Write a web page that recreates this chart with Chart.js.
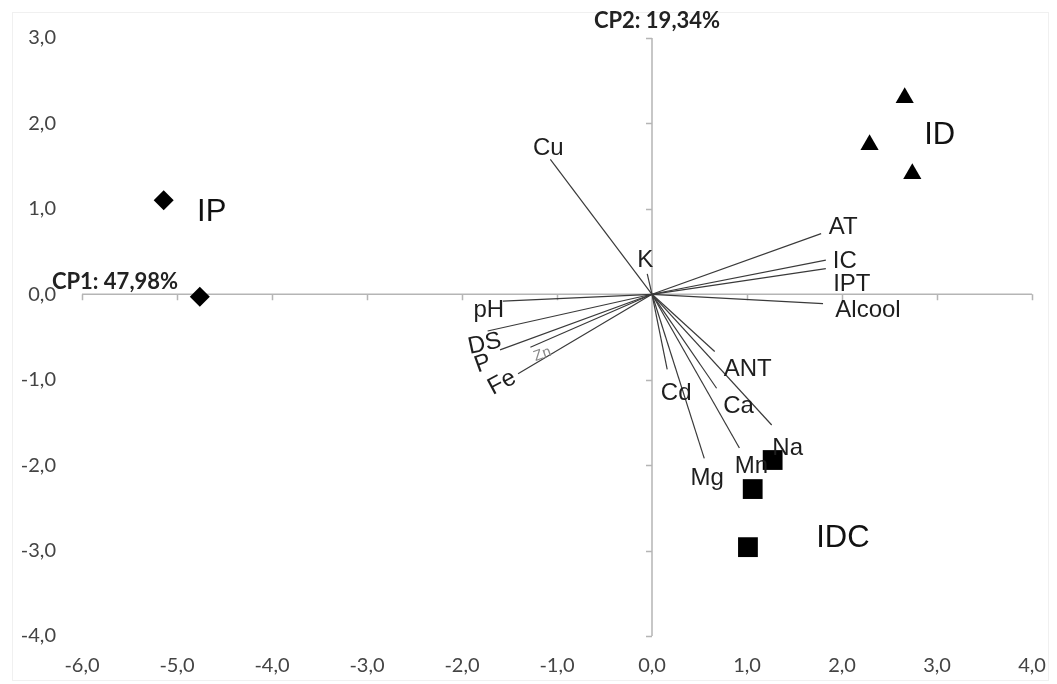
<!DOCTYPE html>
<html lang="pt">
<head>
  <meta charset="UTF-8"/>
  <title>CP1 x CP2</title>
  <script src="https://cdn.jsdelivr.net/npm/chart.js"></script>
  <style>
    * { box-sizing: border-box; margin: 0; padding: 0; }
    body { background: #fff; }
    #wrap { position: relative; width: 1057px; height: 684px; }
  </style>
</head>
<body>
  <div id="wrap"><canvas id="pca"></canvas></div>

  <script>
    // axis ticks
    const xTickValues = [-6, -5, -4, -3, -2, -1, 0, 1, 2, 3, 4];
    const yTickValues = [-4, -3, -2, -1, 0, 1, 2, 3];
    const xTitle = 'CP1: 47,98%';
    const yTitle = 'CP2: 19,34%';

    // sample scores
    const groupNames = ['IP', 'ID', 'IDC'];
    const ipX = [-5.14, -4.76];
    const ipY = [1.10, -0.03];
    const idX = [2.66, 2.29, 2.74];
    const idY = [2.30, 1.75, 1.41];
    const idcX = [1.27, 1.06, 1.01];
    const idcY = [-1.94, -2.28, -2.96];

    // variable loadings (vectors from origin)
    const varNames = ['Cu', 'K', 'AT', 'IC', 'IPT', 'Alcool', 'pH', 'DS', 'P', 'Zn', 'Fe', 'ANT', 'Cd', 'Ca', 'Na', 'Mn', 'Mg'];
    const varX = [-1.07, -0.05, 1.78, 1.83, 1.83, 1.80, -1.57, -1.73, -1.60, -1.28, -1.41, 0.66, 0.16, 0.68, 1.26, 0.92, 0.55];
    const varY = [1.58, 0.24, 0.71, 0.40, 0.30, -0.11, -0.08, -0.43, -0.65, -0.62, -0.93, -0.67, -0.88, -1.10, -1.53, -1.80, -1.92];

    const fmt = v => v.toFixed(1).replace('.', ',');
    const tickFont = { family: 'Lato', size: 20 };

    // label placement relative to vector tip (px), rotation in degrees
    const varLabelStyle = {
      Cu: [-2, -11], K: [-2, -13], AT: [22, -6], IC: [19, 1], IPT: [26, 16], Alcool: [45, 7],
      pH: [-14, 9], DS: [-3, 13, -12], P: [-17, 14, -20], Zn: [12, 7, -20], Fe: [-16, 9, -28],
      ANT: [33, 18], Cd: [9, 24], Ca: [22, 18], Na: [16, 23], Mn: [12, 18], Mg: [3, 20]
    };
    // group label placement relative to one point of the group
    const groupLabelStyle = { IP: [0, 48, 12], ID: [0, 35, 38], IDC: [2, 95, -9] };

    const vectorSets = varNames.map((n, i) => ({
      label: n,
      data: [{ x: 0, y: 0 }, { x: varX[i], y: varY[i] }],
      showLine: true,
      borderColor: '#3a3a3a',
      borderWidth: 1.2,
      pointRadius: 0,
      order: 2
    }));

    const toPts = (xs, ys) => xs.map((x, i) => ({ x: x, y: ys[i] }));
    const groupSets = [
      { label: 'IP', data: toPts(ipX, ipY), pointStyle: 'rectRot', pointRadius: 10 },
      { label: 'ID', data: toPts(idX, idY), pointStyle: 'triangle', pointRadius: 10.5 },
      { label: 'IDC', data: toPts(idcX, idcY), pointStyle: 'rect', pointRadius: 14 }
    ].map(d => Object.assign(d, { backgroundColor: '#000', borderColor: '#000', borderWidth: 0, order: 1 }));

    // axes through the origin + annotations
    const biplotPlugin = {
      id: 'biplot',
      beforeDatasetsDraw(chart) {
        const { ctx, chartArea: a, scales: { x, y } } = chart;
        const x0 = x.getPixelForValue(0), y0 = y.getPixelForValue(0);
        ctx.save();
        // faint outer frame
        ctx.strokeStyle = '#f0f0f0';
        ctx.lineWidth = 1;
        ctx.strokeRect(12.5, 12.5, 1036, 668);
        ctx.strokeStyle = '#b5b5b5';
        ctx.lineWidth = 1.5;
        ctx.beginPath();
        ctx.moveTo(a.left, y0); ctx.lineTo(a.right, y0);
        ctx.moveTo(x0, a.top); ctx.lineTo(x0, a.bottom);
        xTickValues.forEach(v => {
          const px = Math.round(x.getPixelForValue(v)) + 0.5;
          ctx.moveTo(px, y0); ctx.lineTo(px, y0 + 6);
        });
        yTickValues.forEach(v => {
          const py = Math.round(y.getPixelForValue(v)) + 0.5;
          ctx.moveTo(x0, py); ctx.lineTo(x0 - 6, py);
        });
        ctx.stroke();
        ctx.restore();
      },
      afterDatasetsDraw(chart) {
        const { ctx, chartArea: a, scales: { x, y } } = chart;
        const x0 = x.getPixelForValue(0), y0 = y.getPixelForValue(0);
        ctx.save();
        ctx.textAlign = 'center';
        ctx.textBaseline = 'middle';

        // variable labels
        varNames.forEach((n, i) => {
          const s = varLabelStyle[n];
          const px = x.getPixelForValue(varX[i]) + s[0];
          const py = y.getPixelForValue(varY[i]) + s[1];
          ctx.save();
          ctx.translate(px, py);
          if (s[2]) ctx.rotate(s[2] * Math.PI / 180);
          if (n === 'Zn') {
            ctx.font = '15px "Liberation Sans"';
            ctx.fillStyle = '#8a8a8a';
          } else {
            ctx.font = '24px "Liberation Sans"';
            ctx.fillStyle = '#1e1e1e';
          }
          ctx.fillText(n, 0, 0);
          ctx.restore();
        });

        // group labels
        const groupX = [ipX, idX, idcX], groupY = [ipY, idY, idcY];
        ctx.font = '31px "Liberation Sans"';
        ctx.fillStyle = '#111';
        groupNames.forEach((g, gi) => {
          const s = groupLabelStyle[g];
          const px = x.getPixelForValue(groupX[gi][s[0]]) + s[1];
          const py = y.getPixelForValue(groupY[gi][s[0]]) + s[2];
          ctx.fillText(g, px, py);
        });

        // axis titles
        ctx.font = 'bold 22px Lato';
        ctx.fillStyle = '#222';
        ctx.fillText(yTitle, x0 + 5, a.top - 17);
        ctx.fillText(xTitle, a.left + 33, y0 - 12);
        ctx.restore();
      }
    };

    new Chart(document.getElementById('pca'), {
      type: 'scatter',
      data: { datasets: vectorSets.concat(groupSets) },
      options: {
        responsive: true,
        maintainAspectRatio: false,
        animation: false,
        layout: { padding: { top: 36, right: 25, left: 0, bottom: 0 } },
        plugins: { legend: { display: false }, tooltip: { enabled: false } },
        scales: {
          x: {
            type: 'linear',
            min: -6, max: 4,
            afterBuildTicks: s => { s.ticks = xTickValues.map(v => ({ value: v })); },
            afterFit: s => { s.height = 48; s.paddingLeft = 0; s.paddingRight = 0; },
            grid: { display: false, drawTicks: false },
            border: { display: false },
            ticks: { font: tickFont, color: '#444', padding: 18, maxRotation: 0, callback: v => fmt(v) }
          },
          y: {
            type: 'linear',
            min: -4, max: 3,
            afterBuildTicks: s => { s.ticks = yTickValues.map(v => ({ value: v })); },
            afterFit: s => { s.width = 82; },
            grid: { display: false, drawTicks: false },
            border: { display: false },
            ticks: { font: tickFont, color: '#444', padding: 26, callback: v => fmt(v) }
          }
        }
      },
      plugins: [biplotPlugin]
    });
  </script>
</body>
</html>
